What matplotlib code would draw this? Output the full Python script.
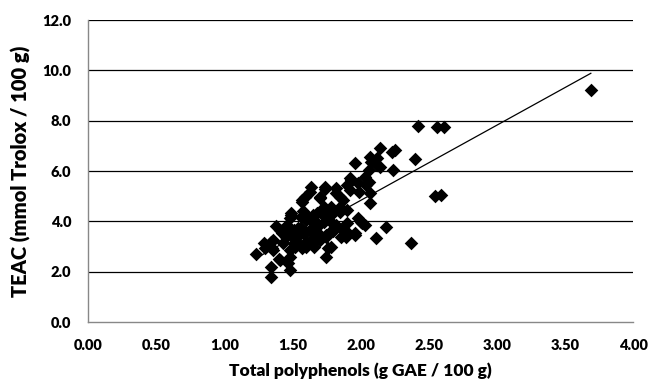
import matplotlib.pyplot as plt
import numpy as np

# total polyphenols (g GAE / 100 g) and TEAC (mmol Trolox / 100 g)
polyphenols = [
    1.23, 1.29, 1.30, 1.34, 1.34, 1.34, 1.35, 1.36, 1.36, 1.38,
    1.40, 1.41, 1.41, 1.42, 1.43, 1.45, 1.46, 1.47, 1.48, 1.48,
    1.48, 1.48, 1.48, 1.49, 1.49, 1.51, 1.51, 1.51, 1.52, 1.52,
    1.54, 1.54, 1.56, 1.56, 1.56, 1.57, 1.57, 1.57, 1.58, 1.58,
    1.59, 1.60, 1.60, 1.60, 1.60, 1.60, 1.63, 1.63, 1.64, 1.64,
    1.65, 1.65, 1.65, 1.65, 1.66, 1.68, 1.68, 1.68, 1.70, 1.70,
    1.70, 1.70, 1.70, 1.73, 1.73, 1.74, 1.74, 1.75, 1.75, 1.75,
    1.75, 1.75, 1.76, 1.78, 1.78, 1.79, 1.79, 1.80, 1.80, 1.80,
    1.82, 1.82, 1.82, 1.82, 1.85, 1.85, 1.85, 1.86, 1.87, 1.87,
    1.89, 1.90, 1.90, 1.90, 1.90, 1.92, 1.92, 1.93, 1.96, 1.96,
    1.96, 1.98, 1.98, 1.99, 2.00, 2.01, 2.03, 2.03, 2.04, 2.06,
    2.06, 2.07, 2.07, 2.07, 2.08, 2.11, 2.12, 2.12, 2.14, 2.14,
    2.19, 2.23, 2.24, 2.25, 2.37, 2.40, 2.42, 2.56, 2.55, 2.59,
    2.61, 3.69,
]
teac = [
    2.70, 3.13, 2.95, 3.19, 2.20, 1.80, 2.93, 3.26, 2.86, 3.81,
    2.49, 3.66, 2.46, 3.52, 3.13, 3.39, 3.85, 2.33, 2.86, 2.60,
    2.07, 3.66, 4.12, 4.32, 4.25, 3.13, 3.32, 3.66, 2.99, 3.39,
    3.13, 3.72, 4.18, 3.52, 3.72, 4.78, 4.85, 2.93, 3.52, 4.40,
    4.98, 4.05, 3.19, 3.59, 2.99, 4.25, 5.18, 3.66, 5.38, 4.05,
    4.25, 3.32, 3.13, 3.66, 3.00, 4.32, 3.79, 3.92, 4.38, 4.91,
    3.46, 3.26, 4.98, 4.58, 3.98, 5.27, 5.35, 4.25, 3.46, 3.39,
    2.60, 4.18, 2.93, 4.58, 2.99, 3.66, 3.95, 4.32, 3.60, 4.45,
    5.11, 3.79, 3.85, 5.31, 4.98, 4.38, 4.58, 3.39, 4.85, 3.66,
    3.36, 5.44, 4.45, 3.59, 3.92, 5.71, 5.24, 5.64, 6.30, 3.52,
    3.46, 5.51, 4.12, 5.18, 3.98, 3.92, 5.77, 3.85, 5.44, 5.57,
    6.04, 4.71, 5.11, 6.54, 6.37, 3.32, 6.50, 6.24, 6.90, 6.17,
    3.79, 6.77, 6.04, 6.83, 3.13, 6.46, 7.79, 7.76, 5.02, 5.05,
    7.76, 9.22,
]
# trend line
slope = 2.99
intercept = -1.15

x_ticks = [0.0, 0.5, 1.0, 1.5, 2.0, 2.5, 3.0, 3.5, 4.0]
y_ticks = [0.0, 2.0, 4.0, 6.0, 8.0, 10.0, 12.0]

plt.rcParams['font.family'] = ['Lato', 'DejaVu Sans']

fig = plt.figure(figsize=(6.54, 3.85), dpi=100)
ax = fig.add_axes([0.1346, 0.1636, 0.8334, 0.7844])

for yv in y_ticks[1:]:
    ax.axhline(yv, color='black', lw=0.9, zorder=1)

ax.scatter(polyphenols, teac, marker='D', s=48, color='black', linewidths=0, zorder=3)

xs = np.array([min(polyphenols), max(polyphenols)])
ax.plot(xs, slope * xs + intercept, color='black', lw=0.9, zorder=4)

ax.set_xlim(0, 4)
ax.set_ylim(0, 12)
ax.set_xticks(x_ticks)
ax.set_yticks(y_ticks)
ax.set_xticklabels([f"{v:.2f}" for v in x_ticks], fontweight='heavy', fontsize=10.5)
ax.set_yticklabels([f"{v:.1f}" for v in y_ticks], fontweight='heavy', fontsize=10.5)
ax.tick_params(length=0, pad=12)

for s in ['top', 'right']:
    ax.spines[s].set_visible(False)
for s in ['left', 'bottom']:
    ax.spines[s].set_color('#888888')
    ax.spines[s].set_linewidth(1.0)

ax.set_xlabel("Total polyphenols (g GAE / 100 g)", fontweight='heavy', fontsize=12.5, labelpad=8)
ax.set_ylabel("TEAC (mmol Trolox / 100 g)", fontweight='heavy', fontsize=14.5, labelpad=8)

fig.savefig("out.png", dpi=100)
